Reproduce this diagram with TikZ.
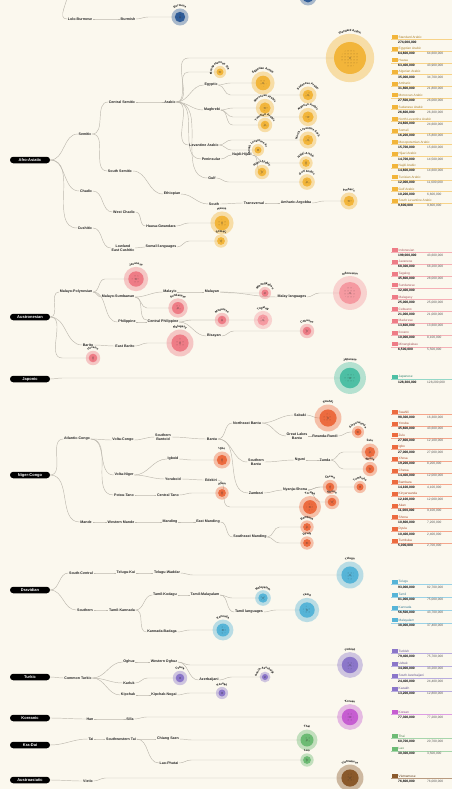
\documentclass[tikz,border=0pt]{standalone}
\usepackage{fontspec}
\setmainfont{Liberation Sans}
\usetikzlibrary{calc,patterns,decorations.text}
\pgfdeclarelayer{background}
\pgfsetlayers{background,main}

\definecolor{paper}{HTML}{FBF8EE}
\definecolor{wire}{HTML}{BDB9AF}
\definecolor{stcol}{HTML}{2F5C97}
\definecolor{aacol}{HTML}{F2B53A}
\definecolor{ancol}{HTML}{EE7C86}
\definecolor{anlight}{HTML}{F59AA1}
\definecolor{jpcol}{HTML}{4DBFA4}
\definecolor{nccol}{HTML}{EC6B3F}
\definecolor{drcol}{HTML}{56B4D7}
\definecolor{tkcol}{HTML}{8B76C9}
\definecolor{kocol}{HTML}{C65DD1}
\definecolor{kdcol}{HTML}{6DBB74}
\definecolor{axcol}{HTML}{8A592B}

\newcommand{\clbl}{\fontsize{2.9}{2.9}\selectfont\bfseries}
\newsavebox{\lblbox}

% one language: id, x, y, radius, colour, name
\newcommand{\langdot}[6]{%
    \sbox{\lblbox}{\clbl #6}%
    \pgfmathsetmacro{\lhalo}{1.45*#4+1}%
    \pgfmathsetmacro{\ldia}{2*#4}%
    \pgfmathsetmacro{\lcore}{0.55*#4}%
    \pgfmathsetmacro{\larc}{max(1.45*#4+3,8,\wd\lblbox/2.4)}%
    \fill[#5, opacity=0.4] (#2,#3) circle[radius=\lhalo pt];%
    \node[langc, fill=#5, minimum size=\ldia pt] (#1) at (#2,#3) {};%
    \fill[pattern=dots, pattern color=#5!65!black] (#1.center) circle[radius=\lcore pt];%
    \fill[black!80] (#1.center) circle[radius=0.55pt];%
    \path[decorate, decoration={text along path, text align=center, text={|\clbl|#6}}]
        (#1.center) ++(195:\larc) arc[start angle=195, end angle=345, radius=\larc];%
}

% one legend row: id, y, colour, name, speakers, first-language speakers
\newcommand{\legrow}[6]{%
    \node[tag, fill=#3] (#1t) at (394.5,#2) {};%
    \node[lgname, text=#3!70!black] (#1n) at (398.5,#2) {#4};%
    \draw[#3!60, line width=0.3pt] (391,{#2+2.3}) -- (452,{#2+2.3});%
    \node[lgnum] (#1a) at (398,{#2+5.2}) {#5};%
    \node[lgsec] (#1b) at (427,{#2+5.2}) {#6};%
}

% connectors
\newcommand{\tlink}[2]{\draw[wirel] (#1.east) to[out=0,in=180] (#2.west);}
\newcommand{\tlinkc}[2]{\draw[wirel] (#1.east) to[out=0,in=180] (#2.center);}
\newcommand{\treach}[2]{\draw[wirel] let \p1=(#1.east), \p2=(#2.center) in (\p1) to[out=0,in=180] (\x1+12pt,\y2) -- (\p2);}

\begin{document}
\begin{tikzpicture}[x=1pt, y=-1pt,
    root/.style={fill=black, text=white, rounded corners=3.2pt, minimum width=40pt,
        minimum height=6.5pt, inner sep=0, font=\fontsize{4}{4}\selectfont\bfseries},
    tx/.style={inner sep=0.6pt, text=black!85, font=\fontsize{3.6}{3.9}\selectfont\bfseries},
    langc/.style={circle, inner sep=0},
    tag/.style={minimum width=6pt, minimum height=4pt, inner sep=0},
    lgname/.style={anchor=west, inner sep=0, font=\fontsize{3.2}{3.2}\selectfont},
    lgnum/.style={anchor=west, inner sep=0, font=\fontsize{3.3}{3.3}\selectfont\bfseries},
    lgsec/.style={anchor=west, inner sep=0, text=black!65, font=\fontsize{3.2}{3.2}\selectfont},
    wirel/.style={draw=wire, line width=0.45pt}]

    \useasboundingbox (0,0) rectangle (452,789);
    \begin{pgfonlayer}{background}
        \fill[paper] (0,0) rectangle (452,789);
    \end{pgfonlayer}

    % --- Sino-Tibetan (cut off at the top) ---
    \coordinate (stin) at (68,-8);
    \node[tx] (lolo) at (80,19) {Lolo-Burmese};
    \node[tx] (burmish) at (128,19) {Burmish};
    \langdot{burmese}{180}{17}{5.2}{stcol}{Burmese}
    \fill[stcol, opacity=0.4] (308,-3) circle[radius=8.5pt];
    \node[langc, fill=stcol, minimum size=11pt] (sttop) at (308,-3) {};

    % --- Afro-Asiatic ---
    \node[root] (aa) at (30,160) {Afro-Asiatic};
    \node[tx] (semitic) at (85,134) {Semitic};
    \node[tx] (chadic) at (86,191) {Chadic};
    \node[tx] (cushitic) at (85,228) {Cushitic};
    \node[tx] (csem) at (122,102) {Central Semitic};
    \node[tx] (arabic) at (170,102) {Arabic};
    \node[tx] (egyptic) at (211,85) {Egyptic};
    \node[tx] (maghreb) at (212,110) {Maghrebi};
    \node[tx] (levant) at (204,145) {Levantine Arabic};
    \node[tx] (penins) at (211,159) {Peninsular};
    \node[tx] (najhij) at (242,155) {Najdi-Hijazi};
    \node[tx] (gulf) at (212,178) {Gulf};
    \node[tx] (ssem) at (120,171) {South Semitic};
    \node[tx] (ethiop) at (172,194) {Ethiopian};
    \node[tx] (sethiop) at (214,204) {South};
    \node[tx] (transv) at (254,203) {Transversal};
    \node[tx] (amarg) at (296,203) {Amharic-Argobba};
    \node[tx] (wchadic) at (124,212) {West Chadic};
    \node[tx] (hausag) at (161,226) {Hausa-Gwandara};
    \node[tx, align=center] (lecush) at (123,248) {Lowland\\East Cushitic};
    \node[tx] (somlang) at (161,247) {Somali languages};

    \langdot{stdar}{350}{58}{16}{aacol}{Standard Arabic}
    \langdot{mesoar}{220}{72}{3.5}{aacol}{Mesopotamian Arabic}
    \langdot{egyar}{263}{83}{7.3}{aacol}{Egyptian Arabic}
    \langdot{sudar}{308}{95}{5.2}{aacol}{Sudanese Arabic}
    \langdot{morar}{265}{108}{5.6}{aacol}{Moroccan Arabic}
    \langdot{algar}{308}{117}{5.6}{aacol}{Algerian Arabic}
    \langdot{tunar}{265}{125}{4.3}{aacol}{Tunisian Arabic}
    \langdot{nlevar}{308}{140}{5.2}{aacol}{North Levantine Arabic}
    \langdot{slevar}{258}{150}{3.5}{aacol}{South Levantine Arabic}
    \langdot{najar}{306}{163}{3.9}{aacol}{Najdi Arabic}
    \langdot{hijar}{262}{172}{4.3}{aacol}{Hijazi Arabic}
    \langdot{gulfar}{307}{182}{4.7}{aacol}{Gulf Arabic}
    \langdot{amharic}{349}{201}{5.2}{aacol}{Amharic}
    \langdot{hausa}{222}{223}{7.3}{aacol}{Hausa}
    \langdot{somali}{221}{241}{3.9}{aacol}{Somali}

    % --- Austronesian ---
    \node[root] (an) at (30,317) {Austronesian};
    \node[tx] (malpol) at (76,292) {Malayo-Polynesian};
    \node[tx] (malsum) at (118,297) {Malayo-Sumbawan};
    \node[tx] (malayic) at (170,292) {Malayic};
    \node[tx] (malayan) at (212,292) {Malayan};
    \node[tx] (mallang) at (292,297) {Malay languages};
    \node[tx] (philip) at (127,322) {Philippine};
    \node[tx] (cphilip) at (163,322) {Central Philippine};
    \node[tx] (bisayan) at (214,336) {Bisayan};
    \node[tx] (barito) at (88,345) {Barito};
    \node[tx] (ebarito) at (125,346) {East Barito};

    \langdot{javan}{136}{279}{7.7}{ancol}{Javanese}
    \langdot{minang}{265}{293}{3.5}{ancol}{Minangkabau}
    \langdot{indones}{350}{293}{11}{anlight}{Indonesian}
    \langdot{sundan}{178}{308}{6}{ancol}{Sundanese}
    \langdot{madur}{222}{320}{4.3}{ancol}{Madurese}
    \langdot{tagalog}{263}{320}{5.6}{anlight}{Tagalog}
    \langdot{cebuano}{307}{331}{4.3}{ancol}{Cebuano}
    \langdot{malag}{180}{343}{8.6}{ancol}{Malagasy}
    \langdot{ilocano}{93}{358}{4.3}{ancol}{Ilocano}

    % --- Japonic ---
    \node[root] (jp) at (30,379) {Japonic};
    \langdot{japanese}{350}{378}{10.3}{jpcol}{Japanese}

    % --- Niger-Congo ---
    \node[root] (nc) at (30,475) {Niger-Congo};
    \node[tx] (atlcongo) at (77,439) {Atlantic-Congo};
    \node[tx] (voltacongo) at (123,440) {Volta-Congo};
    \node[tx, align=center] (sbantoid) at (163,437) {Southern\\Bantoid};
    \node[tx] (bantu) at (212,439) {Bantu};
    \node[tx] (nebantu) at (247,423) {Northeast Bantu};
    \node[tx] (sabaki) at (300,415) {Sabaki};
    \node[tx, align=center] (glbantu) at (297,436) {Great Lakes\\Bantu};
    \node[tx] (rwrundi) at (325,436) {Rwanda-Rundi};
    \node[tx, align=center] (sbantu) at (256,462) {Southern\\Bantu};
    \node[tx] (nguni) at (300,460) {Nguni};
    \node[tx] (zunda) at (325,460) {Zunda};
    \node[tx] (zambezi) at (256,493) {Zambezi};
    \node[tx] (nyashona) at (295,490) {Nyanja-Shona};
    \node[tx] (vniger) at (124,475) {Volta-Niger};
    \node[tx] (igboid) at (173,459) {Igboid};
    \node[tx] (yoruboid) at (173,479) {Yoruboid};
    \node[tx] (edekiri) at (211,480) {Edekiri};
    \node[tx] (kwa) at (124,495) {Potou-Tano};
    \node[tx] (ctano) at (168,495) {Central Tano};
    \node[tx] (mande) at (86,522) {Mande};
    \node[tx] (wmande) at (121,522) {Western Mande};
    \node[tx] (manding) at (170,522) {Manding};
    \node[tx] (emanding) at (208,522) {East Manding};
    \node[tx] (semanding) at (250,537) {Southeast Manding};

    \langdot{swahili}{328}{418}{8.6}{nccol}{Swahili}
    \langdot{kinyarw}{358}{432}{3.5}{nccol}{Kinyarwanda}
    \langdot{zulu}{370}{452}{5.2}{nccol}{Zulu}
    \langdot{xhosa}{370}{469}{4.3}{nccol}{Xhosa}
    \langdot{chewa}{330}{487}{4.3}{nccol}{Chewa}
    \langdot{shona}{332}{502}{4.3}{nccol}{Shona}
    \langdot{tumbuka}{360}{487}{3.5}{nccol}{Tumbuka}
    \langdot{yoruba}{310}{507}{6.9}{nccol}{Yoruba}
    \langdot{igbo}{222}{460}{5.2}{nccol}{Igbo}
    \langdot{akan}{222}{493}{3.9}{nccol}{Akan}
    \langdot{bambara}{307}{527}{3.9}{nccol}{Bambara}
    \langdot{dyula}{307}{543}{3.9}{nccol}{Dyula}

    % --- Dravidian ---
    \node[root] (dr) at (30,590) {Dravidian};
    \node[tx] (scdrav) at (81,573) {South-Central};
    \node[tx] (telugic) at (126,573) {Telugu-Kui};
    \node[tx] (telwar) at (167,573) {Telugu-Waddar};
    \node[tx] (southern) at (85,610) {Southern};
    \node[tx] (sdrav) at (122,610) {Tamil-Kannada};
    \node[tx] (tamkod) at (165,595) {Tamil-Kodagu};
    \node[tx] (tammal) at (205,595) {Tamil-Malayalam};
    \node[tx] (tamlang) at (249,612) {Tamil languages};
    \node[tx] (kanbad) at (162,632) {Kannada-Badaga};

    \langdot{telugu}{350}{575}{8.6}{drcol}{Telugu}
    \langdot{malayalam}{263}{598}{4.7}{drcol}{Malayalam}
    \langdot{tamil}{307}{610}{7.7}{drcol}{Tamil}
    \langdot{kannada}{223}{630}{6.5}{drcol}{Kannada}

    % --- Turkic ---
    \node[root] (tk) at (30,677) {Turkic};
    \node[tx] (comturk) at (78,678) {Common Turkic};
    \node[tx] (oghuz) at (129,662) {Oghuz};
    \node[tx] (woghuz) at (164,662) {Western Oghuz};
    \node[tx] (azeri) at (209,680) {Azerbaijani};
    \node[tx] (karluk) at (129,683) {Karluk};
    \node[tx] (kipchak) at (128,695) {Kipchak};
    \node[tx] (kipnog) at (164,695) {Kipchak-Nogai};

    \langdot{turkish}{350}{665}{8.2}{tkcol}{Turkish}
    \langdot{sazeri}{265}{677}{3}{tkcol}{South Azerbaijani}
    \langdot{uzbek}{180}{678}{4.3}{tkcol}{Uzbek}
    \langdot{kazakh}{222}{693}{3.5}{tkcol}{Kazakh}

    % --- Koreanic ---
    \node[root] (ko) at (30,718) {Koreanic};
    \node[tx] (han) at (90,719) {Han};
    \node[tx] (silla) at (130,719) {Silla};
    \langdot{korean}{350}{717}{8.2}{kocol}{Korean}

    % --- Kra-Dai ---
    \node[root] (kd) at (30,745) {Kra-Dai};
    \node[tx] (tai) at (91,739) {Tai};
    \node[tx] (swtai) at (121,739) {Southwestern Tai};
    \node[tx] (chsaen) at (168,739) {Chiang Saen};
    \node[tx] (laophu) at (169,763) {Lao-Phutai};
    \langdot{thai}{307}{740}{6.5}{kdcol}{Thai}
    \langdot{lao}{307}{760}{3.9}{kdcol}{Lao}

    % --- Austroasiatic ---
    \node[root] (ax) at (30,780) {Austroasiatic};
    \node[tx] (vietic) at (88,781) {Vietic};
    \langdot{vietnam}{350}{778}{8.6}{axcol}{Vietnamese}

    % Connectors, under the circles
    \begin{pgfonlayer}{background}
        \draw[wirel] (stin) to[out=-90,in=180] (lolo.west);
        \tlink{lolo}{burmish} \treach{burmish}{burmese}

        \tlink{aa}{semitic} \tlink{aa}{chadic} \tlink{aa}{cushitic}
        \tlink{semitic}{csem} \tlink{semitic}{ssem} \tlink{csem}{arabic}
        \treach{arabic}{stdar} \treach{arabic}{mesoar}
        \tlink{arabic}{egyptic} \tlink{arabic}{maghreb} \tlink{arabic}{levant}
        \tlink{arabic}{penins} \tlink{arabic}{gulf}
        \treach{egyptic}{egyar} \treach{egyptic}{sudar}
        \treach{maghreb}{morar} \treach{maghreb}{algar} \treach{maghreb}{tunar}
        \treach{levant}{nlevar} \treach{levant}{slevar}
        \tlink{penins}{najhij} \treach{najhij}{najar} \tlinkc{najhij}{hijar}
        \treach{gulf}{gulfar}
        \tlink{ssem}{ethiop} \tlink{ethiop}{sethiop} \tlink{sethiop}{transv}
        \tlink{transv}{amarg} \treach{amarg}{amharic}
        \tlink{chadic}{wchadic} \tlink{wchadic}{hausag} \treach{hausag}{hausa}
        \tlink{cushitic}{lecush} \tlink{lecush}{somlang} \treach{somlang}{somali}

        \tlink{an}{malpol} \tlink{an}{barito} \treach{an}{ilocano}
        \tlink{malpol}{malsum} \treach{malpol}{javan} \tlink{malpol}{philip}
        \tlink{malsum}{malayic} \treach{malsum}{sundan} \treach{malsum}{madur}
        \tlink{malayic}{malayan} \treach{malayan}{minang} \tlink{malayan}{mallang}
        \treach{mallang}{indones}
        \tlink{philip}{cphilip} \treach{cphilip}{tagalog} \tlink{cphilip}{bisayan}
        \treach{bisayan}{cebuano}
        \tlink{barito}{ebarito} \treach{ebarito}{malag}

        \treach{jp}{japanese}

        \tlink{nc}{atlcongo} \tlink{nc}{mande}
        \tlink{atlcongo}{voltacongo} \tlink{atlcongo}{vniger} \tlink{atlcongo}{kwa}
        \tlink{voltacongo}{sbantoid} \tlink{sbantoid}{bantu}
        \tlink{bantu}{nebantu} \tlink{bantu}{sbantu} \tlink{bantu}{zambezi}
        \tlink{nebantu}{sabaki} \treach{sabaki}{swahili}
        \tlink{nebantu}{glbantu} \tlink{glbantu}{rwrundi} \treach{rwrundi}{kinyarw}
        \tlink{sbantu}{nguni} \tlink{nguni}{zunda} \treach{zunda}{zulu} \treach{zunda}{xhosa}
        \tlink{zambezi}{nyashona} \treach{nyashona}{chewa} \treach{nyashona}{shona}
        \treach{nyashona}{tumbuka}
        \tlink{vniger}{igboid} \treach{igboid}{igbo}
        \tlink{vniger}{yoruboid} \tlink{yoruboid}{edekiri} \treach{edekiri}{yoruba}
        \tlink{kwa}{ctano} \treach{ctano}{akan}
        \tlink{mande}{wmande} \tlink{wmande}{manding} \tlink{manding}{emanding}
        \tlink{emanding}{semanding} \treach{semanding}{bambara} \treach{semanding}{dyula}

        \tlink{dr}{scdrav} \tlink{dr}{southern}
        \tlink{scdrav}{telugic} \tlink{telugic}{telwar} \treach{telwar}{telugu}
        \tlink{southern}{sdrav} \tlink{sdrav}{tamkod} \tlink{sdrav}{kanbad}
        \tlink{tamkod}{tammal} \treach{tammal}{malayalam} \tlink{tammal}{tamlang}
        \treach{tamlang}{tamil} \treach{kanbad}{kannada}

        \tlink{tk}{comturk}
        \tlink{comturk}{oghuz} \tlink{comturk}{karluk} \tlink{comturk}{kipchak}
        \tlink{oghuz}{woghuz} \treach{woghuz}{turkish} \tlink{woghuz}{azeri}
        \treach{azeri}{sazeri} \treach{karluk}{uzbek}
        \tlink{kipchak}{kipnog} \treach{kipnog}{kazakh}

        \tlink{ko}{han} \tlink{han}{silla} \treach{silla}{korean}

        \tlink{kd}{tai} \tlink{tai}{swtai} \tlink{swtai}{chsaen} \treach{chsaen}{thai}
        \tlink{swtai}{laophu} \treach{laophu}{lao}

        \tlink{ax}{vietic} \treach{vietic}{vietnam}
    \end{pgfonlayer}

    % Legend
    \legrow{aa1}{37}{aacol}{Standard Arabic}{274,000,000}{}
    \legrow{aa2}{48.7}{aacol}{Egyptian Arabic}{64,600,000}{64,600,000}
    \legrow{aa3}{60.4}{aacol}{Hausa}{63,400,000}{43,900,000}
    \legrow{aa4}{72.1}{aacol}{Algerian Arabic}{35,000,000}{34,700,000}
    \legrow{aa5}{83.8}{aacol}{Amharic}{31,800,000}{21,800,000}
    \legrow{aa6}{95.5}{aacol}{Moroccan Arabic}{27,500,000}{26,000,000}
    \legrow{aa7}{107.2}{aacol}{Sudanese Arabic}{26,600,000}{26,300,000}
    \legrow{aa8}{118.9}{aacol}{North Levantine Arabic}{24,600,000}{24,600,000}
    \legrow{aa9}{130.6}{aacol}{Somali}{16,200,000}{15,800,000}
    \legrow{aa10}{142.3}{aacol}{Mesopotamian Arabic}{15,700,000}{15,600,000}
    \legrow{aa11}{154}{aacol}{Hijazi Arabic}{14,700,000}{14,500,000}
    \legrow{aa12}{165.7}{aacol}{Najdi Arabic}{14,600,000}{14,600,000}
    \legrow{aa13}{177.4}{aacol}{Tunisian Arabic}{12,000,000}{11,600,000}
    \legrow{aa14}{189.1}{aacol}{Gulf Arabic}{10,200,000}{6,600,000}
    \legrow{aa15}{200.8}{aacol}{South Levantine Arabic}{9,800,000}{9,800,000}

    \legrow{an1}{250}{ancol}{Indonesian}{199,000,000}{43,600,000}
    \legrow{an2}{261.8}{ancol}{Javanese}{68,300,000}{68,200,000}
    \legrow{an3}{273.6}{ancol}{Tagalog}{45,800,000}{28,000,000}
    \legrow{an4}{285.4}{ancol}{Sundanese}{32,400,000}{}
    \legrow{an5}{297.2}{ancol}{Malagasy}{25,000,000}{25,000,000}
    \legrow{an6}{309}{ancol}{Cebuano}{21,000,000}{21,000,000}
    \legrow{an7}{320.8}{ancol}{Madurese}{13,600,000}{13,600,000}
    \legrow{an8}{332.6}{ancol}{Ilocano}{10,000,000}{8,100,000}
    \legrow{an9}{344.4}{ancol}{Minangkabau}{6,500,000}{5,500,000}

    \legrow{jp1}{377}{jpcol}{Japanese}{128,300,000}{128,200,000}

    \legrow{nc1}{412}{nccol}{Swahili}{98,300,000}{16,300,000}
    \legrow{nc2}{423.7}{nccol}{Yoruba}{45,600,000}{43,600,000}
    \legrow{nc3}{435.4}{nccol}{Zulu}{27,800,000}{12,100,000}
    \legrow{nc4}{447.1}{nccol}{Igbo}{27,000,000}{27,000,000}
    \legrow{nc5}{458.8}{nccol}{Xhosa}{19,200,000}{8,200,000}
    \legrow{nc6}{470.5}{nccol}{Chewa}{14,400,000}{12,000,000}
    \legrow{nc7}{482.2}{nccol}{Bambara}{14,100,000}{4,100,000}
    \legrow{nc8}{493.9}{nccol}{Kinyarwanda}{12,100,000}{12,000,000}
    \legrow{nc9}{505.6}{nccol}{Akan}{11,000,000}{9,100,000}
    \legrow{nc10}{517.3}{nccol}{Shona}{10,800,000}{7,200,000}
    \legrow{nc11}{529}{nccol}{Dyula}{10,400,000}{2,400,000}
    \legrow{nc12}{540.7}{nccol}{Tumbuka}{5,000,000}{2,700,000}

    \legrow{dr1}{582}{drcol}{Telugu}{93,000,000}{82,700,000}
    \legrow{dr2}{594.8}{drcol}{Tamil}{81,000,000}{75,000,000}
    \legrow{dr3}{607.6}{drcol}{Kannada}{56,500,000}{43,700,000}
    \legrow{dr4}{620.4}{drcol}{Malayalam}{38,000,000}{37,400,000}

    \legrow{tk1}{651}{tkcol}{Turkish}{79,400,000}{75,700,000}
    \legrow{tk2}{663.5}{tkcol}{Uzbek}{34,000,000}{33,200,000}
    \legrow{tk3}{676}{tkcol}{South Azerbaijani}{24,400,000}{24,400,000}
    \legrow{tk4}{688.5}{tkcol}{Kazakh}{13,200,000}{12,800,000}

    \legrow{ko1}{712}{kocol}{Korean}{77,300,000}{77,200,000}

    \legrow{kd1}{736}{kdcol}{Thai}{60,700,000}{20,700,000}
    \legrow{kd2}{748.5}{kdcol}{Lao}{30,300,000}{3,500,000}

    \legrow{ax1}{776}{axcol}{Vietnamese}{76,800,000}{76,000,000}

\end{tikzpicture}
\end{document}
